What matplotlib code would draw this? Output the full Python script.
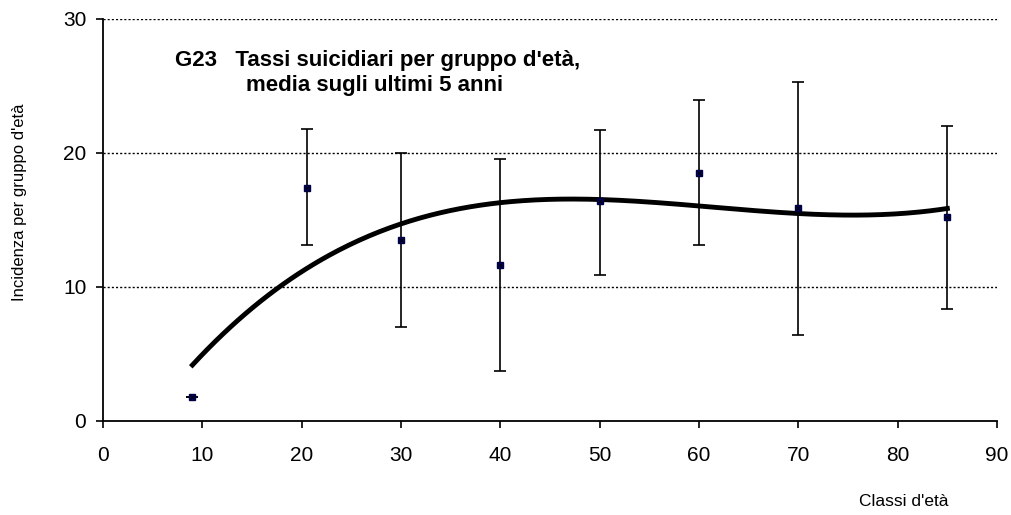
import numpy as np
import matplotlib
matplotlib.use("Agg")
import matplotlib.pyplot as plt

plt.rcParams['font.family'] = ['Liberation Sans', 'DejaVu Sans']

# classi d'età (punto centrale) e tassi medi
eta = [9, 20.5, 30, 40, 50, 60, 70, 85]
tasso = [1.8, 17.4, 13.5, 11.6, 16.4, 18.5, 15.9, 15.2]
err_sup = [1.8, 21.8, 20.0, 19.5, 21.7, 23.9, 25.3, 22.0]
err_inf = [1.8, 13.1, 7.0, 3.7, 10.9, 13.1, 6.4, 8.3]

tasso = np.array(tasso)
yerr = [tasso - np.array(err_inf), np.array(err_sup) - tasso]

fig = plt.figure(figsize=(10.12, 5.15), dpi=100)
ax = fig.add_axes([0.1018, 0.1831, 0.8834, 0.7806])

# linea di tendenza polinomiale (3° grado)
coef = np.polyfit(eta, tasso, 3)
xs = np.linspace(min(eta), max(eta), 300)
ax.plot(xs, np.polyval(coef, xs), color='black', lw=3.5, zorder=2)

ax.errorbar(eta, tasso, yerr=yerr, fmt='none', ecolor='black', elinewidth=1.2,
            capsize=4, capthick=1.2, zorder=3)
ax.plot(eta, tasso, 's', color='#000080', markersize=5, markeredgecolor='#000040', zorder=4)
ax.plot(eta, tasso, 'x', color='black', markersize=3.5, mew=0.8, zorder=5)

ax.set_xlim(0, 90)
ax.set_ylim(0, 30)
ax.set_xticks(range(0, 91, 10))
ax.set_yticks([0, 10, 20, 30])
ax.tick_params(labelsize=15, length=5, width=1.2)
ax.tick_params(axis='x', pad=13)
ax.tick_params(axis='y', pad=7)
for y in [10, 20, 30]:
    ax.axhline(y, color='black', lw=1, ls=(0, (1.5, 1.5)), zorder=1)
ax.spines['top'].set_visible(False)
ax.spines['right'].set_visible(False)
ax.spines['left'].set_linewidth(1.3)
ax.spines['bottom'].set_linewidth(1.3)

ax.text(7.25, 26.9, "G23   Tassi suicidiari per gruppo d'età,", fontsize=16,
        fontweight='bold', va='center')
ax.text(14.4, 25.0, "media sugli ultimi 5 anni", fontsize=16,
        fontweight='bold', va='center')

fig.text(0.019, 0.608, "Incidenza per gruppo d'età", rotation=90, fontsize=12,
         ha='center', va='center')
fig.text(0.893, 0.027, "Classi d'età", fontsize=12.5, ha='center', va='center')

fig.savefig("out.png", dpi=100)
